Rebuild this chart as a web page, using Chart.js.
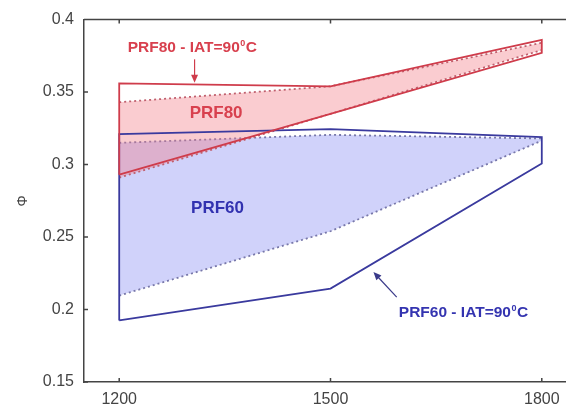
<!DOCTYPE html>
<html>
<head>
<meta charset="utf-8">
<script src="https://cdn.jsdelivr.net/npm/chart.js@4.4.1/dist/chart.umd.min.js"></script>
<style>
  html, body { margin: 0; padding: 0; background: #fff; overflow: hidden; }
  canvas { display: block; }
</style>
</head>
<body>
<canvas id="phiChart" width="590" height="410"></canvas>
<script>
// engine speed (rpm) where each band edge is evaluated
const speeds = [1200, 1500, 1800];

// PRF80: dotted = reference band, solid = IAT 90 C band
const prf80Upper    = [0.343, 0.354, 0.384];
const prf80Lower    = [0.291, 0.335, 0.379];
const prf80IatUpper = [0.356, 0.354, 0.386];
const prf80IatLower = [0.293, 0.335, 0.377];

// PRF60
const prf60Upper    = [0.315, 0.3205, 0.318];
const prf60Lower    = [0.2096, 0.254, 0.3165];
const prf60IatUpper = [0.321, 0.3245, 0.319];
const prf60IatLower = [0.1925, 0.2144, 0.3007];

const xTicks = [1200, 1500, 1800];
const xTickLabels = ['1200', '1500', '1800'];
const yTicks = [0.15, 0.2, 0.25, 0.3, 0.35, 0.4];
const yTickLabels = ['0.15', '0.2', '0.25', '0.3', '0.35', '0.4'];

const FONT = '"Liberation Sans", Arial, sans-serif';
const RED = '#cf3c4b';
const BLUE = '#3a3a9e';

const line = ys => speeds.map((x, i) => ({ x, y: ys[i] }));

// closed outline: left edge, upper edge, right edge, lower edge back
const outline = (up, lo) => [
  { x: speeds[0], y: lo[0] },
  ...line(up),
  ...line(lo).reverse(),
];

// inward tick marks, top frame line and the text callouts
const decor = {
  id: 'decor',
  afterDraw(chart) {
    const { ctx, chartArea: a, scales: { x, y } } = chart;
    ctx.save();
    ctx.strokeStyle = '#444';
    ctx.lineWidth = 1.5;
    ctx.beginPath();
    ctx.moveTo(a.left, a.top);
    ctx.lineTo(a.right, a.top);
    xTicks.forEach(v => {
      const px = x.getPixelForValue(v);
      ctx.moveTo(px, a.bottom); ctx.lineTo(px, a.bottom - 4);
      ctx.moveTo(px, a.top); ctx.lineTo(px, a.top + 4);
    });
    yTicks.forEach(v => {
      const py = y.getPixelForValue(v);
      ctx.moveTo(a.left, py); ctx.lineTo(a.left + 4, py);
    });
    ctx.stroke();

    const P = (vx, vy) => [x.getPixelForValue(vx), y.getPixelForValue(vy)];

    const arrow = (from, to, color) => {
      const [x0, y0] = P(...from), [x1, y1] = P(...to);
      const ang = Math.atan2(y1 - y0, x1 - x0);
      ctx.strokeStyle = color;
      ctx.fillStyle = color;
      ctx.lineWidth = 1.2;
      ctx.beginPath();
      ctx.moveTo(x0, y0);
      ctx.lineTo(x1 - 6 * Math.cos(ang), y1 - 6 * Math.sin(ang));
      ctx.stroke();
      ctx.beginPath();
      ctx.moveTo(x1, y1);
      ctx.lineTo(x1 - 8 * Math.cos(ang) + 3.5 * Math.sin(ang), y1 - 8 * Math.sin(ang) - 3.5 * Math.cos(ang));
      ctx.lineTo(x1 - 8 * Math.cos(ang) - 3.5 * Math.sin(ang), y1 - 8 * Math.sin(ang) + 3.5 * Math.cos(ang));
      ctx.closePath();
      ctx.fill();
    };

    // "PRF.. - IAT=90" with a raised 0 before the C
    const iatLabel = (name, at, color) => {
      let [px, py] = P(...at);
      const size = 15.5;
      ctx.fillStyle = color;
      ctx.textAlign = 'left';
      ctx.textBaseline = 'middle';
      ctx.font = `bold ${size}px ${FONT}`;
      const head = name + ' - IAT=90';
      ctx.fillText(head, px, py);
      px += ctx.measureText(head).width + 0.5;
      ctx.font = `bold 9px ${FONT}`;
      ctx.fillText('0', px, py - 5);
      px += ctx.measureText('0').width + 0.5;
      ctx.font = `bold ${size}px ${FONT}`;
      ctx.fillText('C', px, py);
    };

    const bandLabel = (text, at, color) => {
      const [px, py] = P(...at);
      ctx.fillStyle = color;
      ctx.textAlign = 'left';
      ctx.textBaseline = 'middle';
      ctx.font = `bold 17px ${FONT}`;
      ctx.fillText(text, px, py);
    };

    iatLabel('PRF80', [1212, 0.3803], '#d8404e');
    arrow([1307, 0.3726], [1307, 0.3565], RED);
    bandLabel('PRF80', [1300, 0.3351], '#d8404e');

    bandLabel('PRF60', [1302, 0.2700], '#3232b0');
    iatLabel('PRF60', [1597, 0.1975], '#3434b0');
    arrow([1594, 0.2085], [1561, 0.2258], '#3a3a8a');
    ctx.restore();
  }
};

new Chart(document.getElementById('phiChart'), {
  type: 'line',
  data: {
    datasets: [
      {
        data: outline(prf80IatUpper, prf80IatLower),
        borderColor: RED, borderWidth: 1.8, fill: false, order: 0,
      },
      {
        data: outline(prf60IatUpper, prf60IatLower),
        borderColor: BLUE, borderWidth: 1.8, fill: false, order: 1,
      },
      {
        data: line(prf80Upper),
        borderColor: '#c0606e', borderWidth: 1.8, borderDash: [2, 3],
        backgroundColor: 'rgba(242,120,132,0.38)', fill: '+1', order: 3,
      },
      {
        data: line(prf80Lower),
        borderColor: '#c0606e', borderWidth: 1.8, borderDash: [2, 3],
        fill: false, order: 2,
      },
      {
        data: line(prf60Upper),
        borderColor: '#7878aa', borderWidth: 1.8, borderDash: [2, 3],
        backgroundColor: 'rgba(150,155,245,0.45)', fill: '+1', order: 5,
      },
      {
        data: line(prf60Lower),
        borderColor: '#7878aa', borderWidth: 1.8, borderDash: [2, 3],
        fill: false, order: 4,
      },
    ],
  },
  options: {
    responsive: false,
    animation: false,
    events: [],
    layout: { padding: { top: 17, right: 13, left: 0, bottom: 0 } },
    elements: { point: { radius: 0 }, line: { tension: 0 } },
    plugins: { legend: { display: false }, tooltip: { enabled: false } },
    scales: {
      x: {
        type: 'linear',
        min: 1150,
        max: 1850,
        afterBuildTicks: s => { s.ticks = xTicks.map(v => ({ value: v })); },
        afterFit: s => { s.height = 28; },
        grid: { display: false, drawTicks: false },
        border: { display: true, color: '#444', width: 1.5 },
        ticks: {
          color: '#444', padding: 8, font: { family: FONT, size: 16 }, maxRotation: 0,
          callback: v => xTickLabels[xTicks.indexOf(v)] ?? '',
        },
      },
      y: {
        min: 0.15,
        max: 0.4,
        afterBuildTicks: s => { s.ticks = yTicks.map(v => ({ value: v })); },
        afterFit: s => { s.width = 84; },
        grid: { display: false, drawTicks: false },
        border: { display: true, color: '#444', width: 1.5 },
        ticks: {
          color: '#444', padding: 10, font: { family: FONT, size: 16 },
          callback: v => yTickLabels[yTicks.indexOf(v)] ?? '',
        },
        title: {
          display: true, text: 'Φ', color: '#444',
          font: { family: FONT, size: 14 }, padding: { top: 15, bottom: 0 },
        },
      },
    },
  },
  plugins: [decor],
});
</script>
</body>
</html>
